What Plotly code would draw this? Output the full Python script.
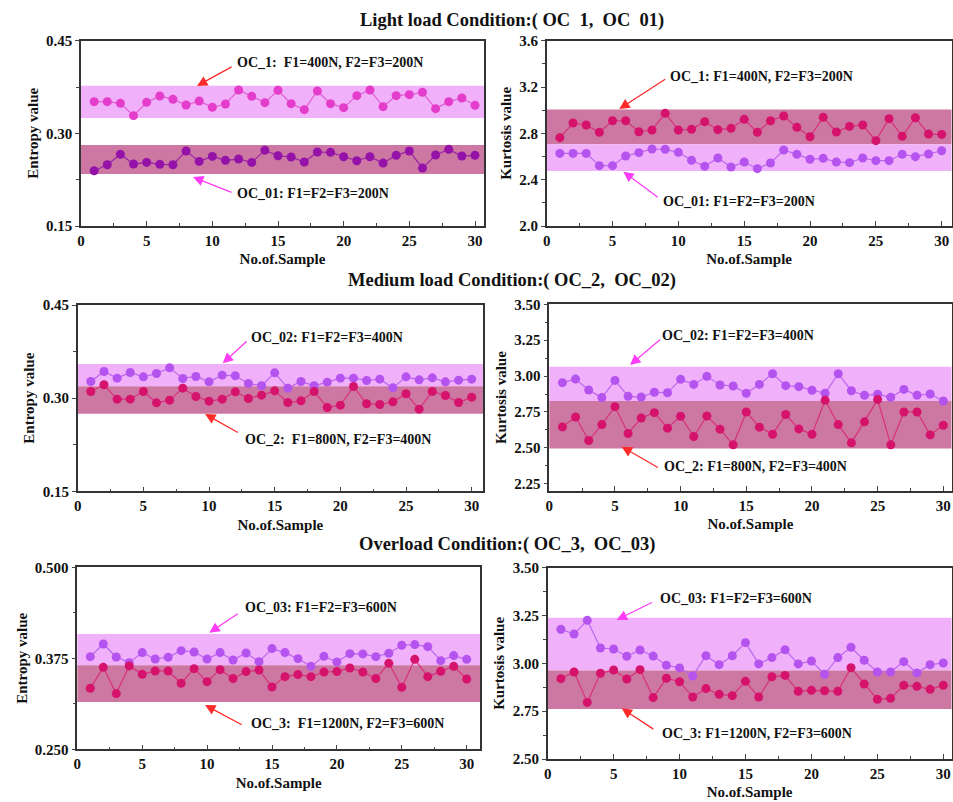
import plotly.graph_objects as go

samples = list(range(1, 31))

# ---- Light load ----
ent_oc1 = [0.3513, 0.3513, 0.3486, 0.3286, 0.3502, 0.3605, 0.3551, 0.3459, 0.3524, 0.3421,
           0.3475, 0.3702, 0.3599, 0.3497, 0.3697, 0.3481, 0.3383, 0.3686, 0.3481, 0.3416,
           0.3610, 0.3702, 0.3432, 0.3610, 0.3626, 0.3664, 0.3400, 0.3513, 0.3572, 0.3454]
ent_oc01 = [0.2395, 0.2492, 0.2660, 0.2503, 0.2530, 0.2498, 0.2492, 0.2714, 0.2546, 0.2627,
            0.2563, 0.2584, 0.2530, 0.2725, 0.2638, 0.2617, 0.2536, 0.2698, 0.2692, 0.2622,
            0.2557, 0.2622, 0.2519, 0.2644, 0.2714, 0.2438, 0.2649, 0.2741, 0.2633, 0.2644]
kur_oc1 = [2.763, 2.889, 2.872, 2.809, 2.909, 2.909, 2.814, 2.829, 2.973, 2.829,
           2.835, 2.901, 2.832, 2.843, 2.921, 2.809, 2.909, 2.950, 2.852, 2.771,
           2.938, 2.812, 2.860, 2.872, 2.737, 2.927, 2.774, 2.935, 2.794, 2.791]
kur_oc01 = [2.627, 2.627, 2.627, 2.521, 2.521, 2.604, 2.633, 2.665, 2.662, 2.636,
            2.567, 2.515, 2.587, 2.509, 2.553, 2.495, 2.544, 2.656, 2.619, 2.576,
            2.584, 2.553, 2.547, 2.587, 2.564, 2.564, 2.619, 2.599, 2.622, 2.650]

# ---- Medium load ----
ent_oc02 = [0.3268, 0.3429, 0.3322, 0.3413, 0.3343, 0.3397, 0.3488, 0.3317, 0.3349, 0.3263,
            0.3370, 0.3360, 0.3236, 0.3199, 0.3408, 0.3161, 0.3268, 0.3199, 0.3258, 0.3322,
            0.3322, 0.3284, 0.3306, 0.3166, 0.3343, 0.3295, 0.3327, 0.3263, 0.3290, 0.3306]
ent_oc2 = [0.3107, 0.3215, 0.2984, 0.2984, 0.3107, 0.2925, 0.2968, 0.3161, 0.3027, 0.2952,
           0.2984, 0.3102, 0.2995, 0.3048, 0.3118, 0.2930, 0.2957, 0.3107, 0.2850, 0.2887,
           0.3188, 0.2909, 0.2898, 0.2941, 0.3070, 0.2823, 0.3107, 0.3043, 0.2930, 0.3016]
kur_oc02 = [2.954, 2.979, 2.903, 2.850, 2.970, 2.859, 2.854, 2.887, 2.884, 2.977,
            2.942, 2.998, 2.938, 2.931, 2.880, 2.942, 3.016, 2.933, 2.926, 2.901,
            2.880, 3.016, 2.898, 2.866, 2.873, 2.852, 2.907, 2.866, 2.875, 2.826]
kur_oc2 = [2.646, 2.715, 2.551, 2.662, 2.787, 2.600, 2.708, 2.745, 2.637, 2.720,
           2.579, 2.722, 2.630, 2.521, 2.750, 2.644, 2.595, 2.732, 2.632, 2.595,
           2.831, 2.662, 2.535, 2.681, 2.836, 2.521, 2.750, 2.750, 2.590, 2.657]

# ---- Overload ----
ent_oc03 = [0.3773, 0.3947, 0.3768, 0.3690, 0.3828, 0.3741, 0.3764, 0.3855, 0.3837, 0.3741,
            0.3828, 0.3727, 0.3823, 0.3704, 0.3883, 0.3828, 0.3745, 0.3640, 0.3777, 0.3700,
            0.3814, 0.3810, 0.3773, 0.3819, 0.3929, 0.3938, 0.3910, 0.3718, 0.3787, 0.3736]
ent_oc3 = [0.3338, 0.3626, 0.3265, 0.3645, 0.3530, 0.3576, 0.3576, 0.3407, 0.3608, 0.3429,
           0.3594, 0.3471, 0.3567, 0.3590, 0.3356, 0.3498, 0.3526, 0.3498, 0.3562, 0.3567,
           0.3617, 0.3562, 0.3471, 0.3681, 0.3352, 0.3736, 0.3498, 0.3571, 0.3640, 0.3466]
kur_oc03 = [3.178, 3.153, 3.225, 3.080, 3.075, 3.037, 3.070, 3.038, 2.990, 2.976,
            2.934, 3.040, 2.993, 3.040, 3.108, 2.997, 3.030, 3.071, 2.997, 3.012,
            2.943, 3.030, 3.084, 3.016, 2.955, 2.955, 3.009, 2.950, 2.993, 3.002]
kur_oc3 = [2.920, 2.955, 2.796, 2.948, 2.965, 2.918, 2.967, 2.821, 2.922, 2.904,
           2.824, 2.868, 2.838, 2.831, 2.906, 2.824, 2.930, 2.937, 2.854, 2.859,
           2.857, 2.854, 2.977, 2.892, 2.812, 2.817, 2.885, 2.880, 2.864, 2.885]

# band limits [low, high] per panel: (upper band, lower band)
bands = {
    1: ([0.325, 0.377], [0.234, 0.281]),
    2: ([2.705, 3.005], [2.475, 2.705]),
    3: ([0.319, 0.355], [0.275, 0.319]),
    4: ([2.826, 3.065], [2.495, 2.826]),
    5: ([0.3655, 0.4085], [0.315, 0.3655]),
    6: ([2.963, 3.239], [2.761, 2.963]),
}

LIGHT = "rgba(240,176,250,1)"
DARK = "rgba(204,120,162,1)"
MAGENTA = "#E43CCB"
PURPLE = "#9412A8"
CRIMSON = "#D5136C"
VIOLET = "#B553EE"

W, H = 953, 802
FONT = "Liberation Serif"

# panel pixel geometry: (x0px, x30px, right px, top px, bottom px, yrange)
geom = {
    1: (81.0, 475.0, 484.0, 40.7, 226.0, [0.15, 0.45]),
    2: (546.7, 941.7, 951.5, 40.7, 226.0, [2.0, 3.6]),
    3: (77.7, 471.7, 483.0, 305.0, 491.3, [0.15, 0.45]),
    4: (549.3, 943.3, 951.5, 304.3, 490.9, [2.2, 3.5]),
    5: (77.3, 466.7, 480.0, 567.3, 749.3, [0.25, 0.5]),
    6: (547.7, 943.3, 951.5, 567.7, 759.0, [2.5, 3.5]),
}
yticks = {
    1: dict(tick0=0.15, dtick=0.15, tickformat=".2f", minor=0.075, title="Entropy value"),
    2: dict(tick0=2.0, dtick=0.4, tickformat=".1f", minor=0.2, title="Kurtosis value"),
    3: dict(tick0=0.15, dtick=0.15, tickformat=".2f", minor=0.075, title="Entropy value"),
    4: dict(tick0=2.25, dtick=0.25, tickformat=".2f", minor=0.125, title="Kurtosis value"),
    5: dict(tick0=0.25, dtick=0.125, tickformat=".3f", minor=0.0625, title="Entropy value"),
    6: dict(tick0=2.5, dtick=0.25, tickformat=".2f", minor=0.125, title="Kurtosis value"),
}

series = {
    1: [(ent_oc1, MAGENTA, "#E060D2"), (ent_oc01, PURPLE, "#9A22A8")],
    2: [(kur_oc1, CRIMSON, "#D8307A"), (kur_oc01, VIOLET, "#BC66EE")],
    3: [(ent_oc02, VIOLET, "#BC66EE"), (ent_oc2, CRIMSON, "#D8307A")],
    4: [(kur_oc02, VIOLET, "#BC66EE"), (kur_oc2, CRIMSON, "#D8307A")],
    5: [(ent_oc03, VIOLET, "#BC66EE"), (ent_oc3, CRIMSON, "#D8307A")],
    6: [(kur_oc03, VIOLET, "#BC66EE"), (kur_oc3, CRIMSON, "#D8307A")],
}

# annotations: (text, text_x, text_y, tail_x, tail_y, head_x, head_y, arrow colour)
RED = "#FF2A2A"
PINK = "#FF3CF5"
notes = {
    1: [("OC_1:  F1=400N, F2=F3=200N", 11.73, 0.4139, 11.58, 0.4090, 8.83, 0.3767, RED),
        ("OC_01: F1=F2=F3=200N", 11.73, 0.2034, 11.58, 0.2034, 8.53, 0.2293, PINK)],
    2: [("OC_1: F1=400N, F2=F3=200N", 9.23, 3.295, 9.11, 3.275, 5.51, 3.010, RED),
        ("OC_01: F1=F2=F3=200N", 8.68, 2.210, 8.55, 2.239, 5.82, 2.469, PINK)],
    3: [("OC_02: F1=F2=F3=400N", 13.07, 0.3974, 12.99, 0.3937, 11.04, 0.3561, PINK),
        ("OC_2:  F1=800N, F2=F3=400N", 12.57, 0.2338, 12.31, 0.2434, 9.70, 0.2745, RED)],
    4: [("OC_02: F1=F2=F3=400N", 8.43, 3.286, 8.56, 3.263, 6.15, 3.077, PINK),
        ("OC_2: F1=800N, F2=F3=400N", 8.56, 2.373, 8.38, 2.357, 5.51, 2.508, RED)],
    5: [("OC_03: F1=F2=F3=600N", 12.79, 0.4445, 12.48, 0.4376, 10.17, 0.4101, PINK),
        ("OC_3:  F1=1200N, F2=F3=600N", 13.25, 0.2851, 12.79, 0.2826, 9.84, 0.3108, RED)],
    6: [("OC_03: F1=F2=F3=600N", 8.34, 3.340, 8.01, 3.322, 5.23, 3.227, PINK),
        ("OC_3: F1=1200N, F2=F3=600N", 8.51, 2.634, 8.13, 2.651, 5.61, 2.765, RED)],
}

titles = [
    ("Light load Condition:( OC  1,  OC  01)", 512, 20),
    ("Medium load Condition:( OC_2,  OC_02)", 512, 280),
    ("Overload Condition:( OC_3,  OC_03)", 508, 544),
]

fig = go.Figure()
shapes = []
annotations = []
layout_axes = {}

for p in range(1, 7):
    x0px, x30px, rpx, tpx, bpx, yr = geom[p]
    xmax = 30 * (rpx - x0px) / (x30px - x0px)
    xs = "" if p == 1 else str(p)
    xa, ya = "x" + xs, "y" + xs
    yt = yticks[p]
    layout_axes["xaxis" + xs] = dict(
        domain=[x0px / W, rpx / W], range=[0, xmax], anchor=ya, automargin=False,
        tick0=0, dtick=5, ticks="inside", ticklen=5, tickwidth=1.2,
        minor=dict(ticks="inside", dtick=2.5, tick0=0, ticklen=3, tickwidth=1),
        showline=True, linewidth=1.5, linecolor="#333", mirror=True,
        showgrid=False, zeroline=False,
        tickfont=dict(family=FONT, size=15, color="#111", weight="bold"),
        title=dict(text="No.of.Sample", standoff=6,
                   font=dict(family=FONT, size=15, color="#111", weight="bold")),
    )
    layout_axes["yaxis" + xs] = dict(
        domain=[1 - bpx / H, 1 - tpx / H], range=yr, anchor=xa, automargin=False,
        tick0=yt["tick0"], dtick=yt["dtick"], tickformat=yt["tickformat"],
        ticks="outside", ticklen=4, tickwidth=1.2,
        minor=dict(ticks="outside", dtick=yt["minor"], tick0=yt["tick0"], ticklen=3, tickwidth=1),
        showline=True, linewidth=1.5, linecolor="#333", mirror=True,
        showgrid=False, zeroline=False,
        tickfont=dict(family=FONT, size=15, color="#111", weight="bold"),
        title=dict(text=yt["title"], standoff=4,
                   font=dict(family=FONT, size=15, color="#111", weight="bold")),
    )
    up, lo = bands[p]
    up_col, lo_col = (DARK, LIGHT) if p == 2 else (LIGHT, DARK)
    shapes.append(dict(type="rect", xref=xa + " domain", yref=ya, x0=0, x1=1,
                       y0=up[0], y1=up[1], fillcolor=up_col, line=dict(width=0), layer="below"))
    shapes.append(dict(type="rect", xref=xa + " domain", yref=ya, x0=0, x1=1,
                       y0=lo[0], y1=lo[1], fillcolor=lo_col, line=dict(width=0), layer="below"))
    for vals, mcol, lcol in series[p]:
        fig.add_trace(go.Scatter(
            x=samples, y=vals, mode="lines+markers", xaxis=xa, yaxis=ya,
            line=dict(color=lcol, width=1.2),
            marker=dict(color=mcol, size=9, line=dict(width=0)),
            showlegend=False, hoverinfo="skip"))
    for text, tx, ty, ax_, ay_, hx, hy, acol in notes[p]:
        annotations.append(dict(xref=xa, yref=ya, x=tx, y=ty, text=text, showarrow=False,
                                xanchor="left", yanchor="middle",
                                font=dict(family=FONT, size=14, color="#111", weight="bold")))
        annotations.append(dict(xref=xa, yref=ya, axref=xa, ayref=ya, x=hx, y=hy, ax=ax_, ay=ay_,
                                text="", showarrow=True, arrowhead=2, arrowsize=1.6,
                                arrowwidth=1.3, arrowcolor=acol))

for text, cx, cy in titles:
    annotations.append(dict(xref="paper", yref="paper", x=cx / W, y=1 - cy / H, text=text,
                            showarrow=False, xanchor="center", yanchor="middle",
                            font=dict(family=FONT, size=18.5, color="#111", weight="bold")))

fig.update_layout(
    width=W, height=H, margin=dict(l=0, r=0, t=0, b=0, autoexpand=False),
    paper_bgcolor="white", plot_bgcolor="white",
    shapes=shapes, annotations=annotations,
    font=dict(family=FONT, color="#111"),
    **layout_axes,
)

fig.write_html("out.html", config={"displayModeBar": False},
               post_script="document.body.style.margin='0';document.body.style.overflow='hidden';")
